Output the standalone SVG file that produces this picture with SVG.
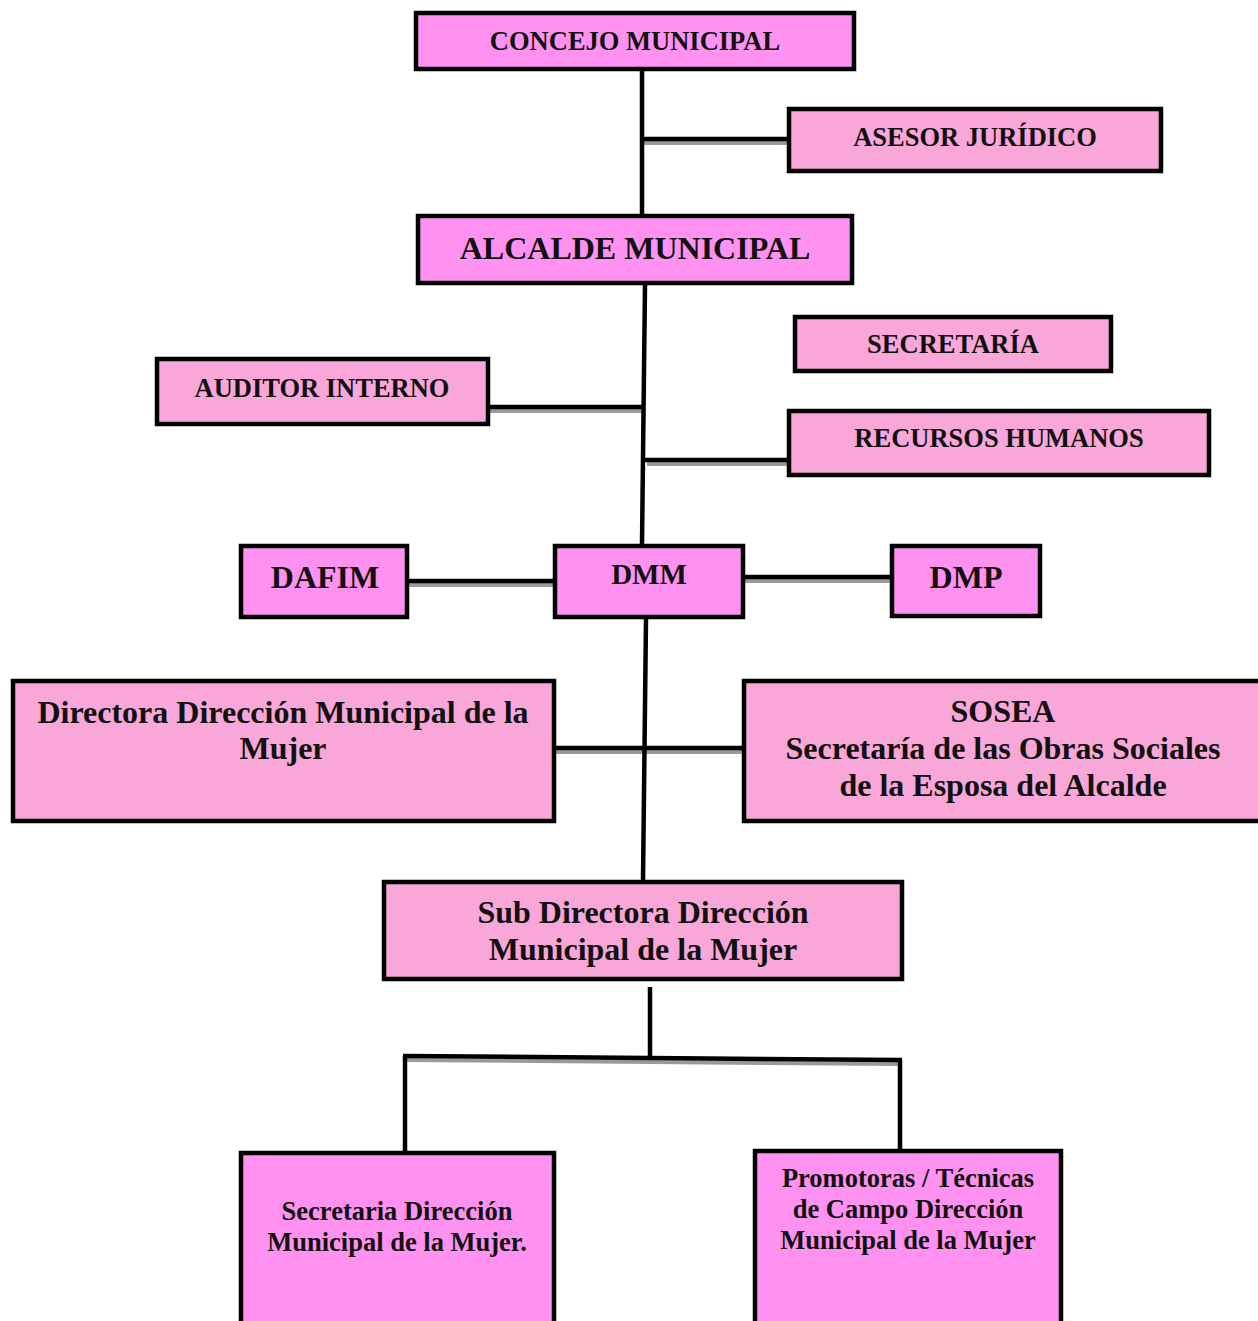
<svg xmlns="http://www.w3.org/2000/svg" width="1258" height="1321" viewBox="0 0 1258 1321">
  <style>
    .box { stroke: #000; stroke-width: 4.5; }
    .hot { fill: #FF92F0; }
    .soft { fill: #F9A6D8; }
    .lbl { font-family: "Liberation Serif", "Times New Roman", serif; font-weight: bold; fill: #111; text-anchor: middle; }
    .s26 { font-size: 26.5px; }
    .s32 { font-size: 32px; }
    .wire { stroke: #000; stroke-width: 4.5; fill: none; }
    .shade { stroke: #9a9a9a; stroke-width: 4; fill: none; }
  </style>
  <rect width="1258" height="1321" fill="#fff"/>

  <!-- connectors -->
  <g id="connectors">
    <!-- grey shading under horizontal links -->
    <line class="shade" x1="644" y1="143" x2="787" y2="143"/>
    <line class="shade" x1="490" y1="411" x2="642" y2="411"/>
    <line class="shade" x1="647" y1="464" x2="787" y2="464"/>
    <line class="shade" x1="409" y1="585" x2="553" y2="585"/>
    <line class="shade" x1="745" y1="581" x2="890" y2="581"/>
    <line class="shade" x1="556" y1="752" x2="742" y2="752"/>
    <line class="shade" x1="406" y1="1060" x2="898" y2="1064"/>

    <!-- main spine -->
    <line class="wire" x1="642" y1="70" x2="642" y2="214"/>
    <line class="wire" x1="645" y1="285" x2="642" y2="544"/>
    <line class="wire" x1="646" y1="619" x2="643" y2="880"/>
    <line class="wire" x1="650" y1="987" x2="650" y2="1057"/>

    <!-- branches -->
    <line class="wire" x1="642" y1="139" x2="787" y2="139"/>
    <line class="wire" x1="490" y1="407" x2="642" y2="407"/>
    <line class="wire" x1="645" y1="460" x2="787" y2="460"/>
    <line class="wire" x1="409" y1="581" x2="553" y2="581"/>
    <line class="wire" x1="745" y1="577" x2="890" y2="577"/>
    <line class="wire" x1="556" y1="748" x2="742" y2="748"/>

    <!-- split to the two bottom offices -->
    <line class="wire" x1="403" y1="1056" x2="902" y2="1060"/>
    <line class="wire" x1="405" y1="1056" x2="405" y2="1151"/>
    <line class="wire" x1="900" y1="1060" x2="900" y2="1149"/>
  </g>

  <!-- nodes -->
  <g id="concejo">
    <rect class="box hot" x="416" y="13" width="438" height="56"/>
    <text class="lbl s26" x="635" y="50">CONCEJO MUNICIPAL</text>
  </g>
  <g id="asesor">
    <rect class="box soft" x="789" y="109" width="372" height="62"/>
    <text class="lbl s26" x="975" y="146">ASESOR JURÍDICO</text>
  </g>
  <g id="alcalde">
    <rect class="box hot" x="418" y="216" width="434" height="67"/>
    <text class="lbl s32" x="635" y="259">ALCALDE MUNICIPAL</text>
  </g>
  <g id="secretaria">
    <rect class="box soft" x="795" y="317" width="316" height="54"/>
    <text class="lbl s26" x="953" y="353">SECRETARÍA</text>
  </g>
  <g id="auditor">
    <rect class="box soft" x="157" y="359" width="331" height="65"/>
    <text class="lbl s26" x="322" y="397">AUDITOR INTERNO</text>
  </g>
  <g id="rrhh">
    <rect class="box soft" x="789" y="411" width="420" height="64"/>
    <text class="lbl s26" x="999" y="447">RECURSOS HUMANOS</text>
  </g>
  <g id="dafim">
    <rect class="box hot" x="241" y="546" width="166" height="71"/>
    <text class="lbl s32" x="325" y="588">DAFIM</text>
  </g>
  <g id="dmm">
    <rect class="box hot" x="555" y="546" width="188" height="71"/>
    <text class="lbl" style="font-size:29px" x="649" y="584">DMM</text>
  </g>
  <g id="dmp">
    <rect class="box hot" x="892" y="546" width="148" height="70"/>
    <text class="lbl s32" x="966" y="588">DMP</text>
  </g>
  <g id="directora">
    <rect class="box soft" x="13" y="681" width="541" height="140"/>
    <text class="lbl s32" x="283" y="723">Directora Dirección Municipal de la</text>
    <text class="lbl s32" x="283" y="759">Mujer</text>
  </g>
  <g id="sosea">
    <rect class="box soft" x="744" y="681" width="520" height="140"/>
    <text class="lbl s32" x="1003" y="722">SOSEA</text>
    <text class="lbl s32" x="1003" y="759">Secretaría de las Obras Sociales</text>
    <text class="lbl s32" x="1003" y="796">de la Esposa del Alcalde</text>
  </g>
  <g id="subdirectora">
    <rect class="box soft" x="384" y="882" width="518" height="97"/>
    <text class="lbl s32" x="643" y="923">Sub Directora Dirección</text>
    <text class="lbl s32" x="643" y="960">Municipal de la Mujer</text>
  </g>
  <g id="secretaria-dmm">
    <rect class="box hot" x="241" y="1153" width="313" height="180"/>
    <text class="lbl s26" x="397" y="1220">Secretaria Dirección</text>
    <text class="lbl s26" x="397" y="1251">Municipal de la Mujer.</text>
  </g>
  <g id="promotoras">
    <rect class="box hot" x="755" y="1151" width="306" height="182"/>
    <text class="lbl s26" x="908" y="1187">Promotoras / Técnicas</text>
    <text class="lbl s26" x="908" y="1218">de Campo Dirección</text>
    <text class="lbl s26" x="908" y="1249">Municipal de la Mujer</text>
  </g>
</svg>
